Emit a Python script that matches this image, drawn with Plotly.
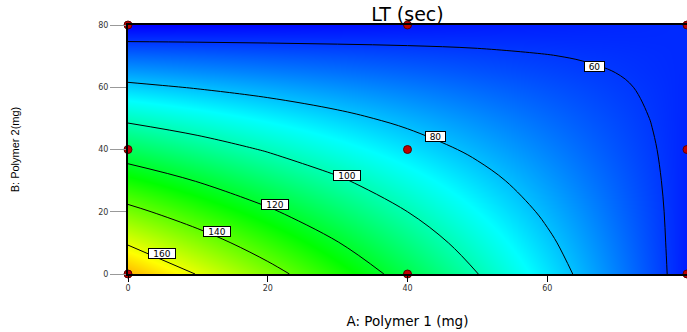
import plotly.graph_objects as go

# Factor grid (mg) - finer near the top-right corner where the 60 contour bends
polymer1_mg = [0, 10, 20, 30, 40, 50, 60, 65, 70, 75, 80]
polymer2_mg = [0, 10, 20, 30, 40, 50, 60, 65, 70, 75, 80]

# LT (sec), one row per Polymer 2 level
lt_b0 = [174.2, 159.4, 144.6, 129.8, 115.0, 100.2, 85.4, 78.0, 70.6, 63.2, 55.8]
lt_b10 = [158.9, 146.1, 133.2, 120.4, 107.5, 94.7, 81.8, 75.4, 69.0, 62.5, 56.1]
lt_b20 = [143.6, 132.7, 121.8, 110.9, 100.0, 89.1, 78.2, 72.8, 67.3, 61.9, 56.4]
lt_b30 = [128.3, 119.4, 110.4, 101.5, 92.5, 83.6, 74.6, 70.1, 65.7, 61.2, 56.7]
lt_b40 = [113.0, 106.0, 99.0, 92.0, 85.0, 78.0, 71.0, 67.5, 64.0, 60.5, 57.0]
lt_b50 = [97.7, 92.7, 87.6, 82.6, 77.5, 72.5, 67.4, 64.9, 62.4, 59.8, 57.3]
lt_b60 = [82.4, 79.3, 76.2, 73.1, 70.0, 66.9, 63.8, 62.3, 60.7, 59.2, 57.6]
lt_b65 = [74.8, 72.6, 70.5, 68.4, 66.3, 64.1, 62.0, 60.9, 59.9, 58.8, 57.8]
lt_b70 = [67.1, 66.0, 64.8, 63.7, 62.5, 61.4, 60.2, 59.6, 59.1, 58.5, 57.9]
lt_b75 = [59.5, 59.3, 59.1, 58.9, 58.8, 58.6, 58.4, 58.3, 58.2, 58.1, 58.1]
lt_b80 = [51.8, 52.6, 53.4, 54.2, 55.0, 55.8, 56.6, 57.0, 57.4, 57.8, 58.2]

# Contour levels and where their labels sit
contour_levels = [60, 80, 100, 120, 140, 160]
label_a = [66.7, 44.0, 31.4, 21.0, 12.7, 4.8]
label_b = [66.6, 44.3, 31.6, 22.2, 13.6, 6.6]

# Design points
design_a = [0, 0, 0, 40, 40, 40, 80, 80, 80]
design_b = [0, 40, 80, 0, 40, 80, 0, 40, 80]

tick_vals = [0, 20, 40, 60, 80]
tick_text = ["0", "20", "40", "60", "80"]

z = [lt_b0, lt_b10, lt_b20, lt_b30, lt_b40, lt_b50, lt_b60,
     lt_b65, lt_b70, lt_b75, lt_b80]

WIDE = "DejaVu Sans, Verdana, sans-serif"
ARIAL = "Liberation Sans, Arial, sans-serif"

colorscale = [
    [0.0, "rgb(0,0,255)"],
    [0.25, "rgb(0,255,255)"],
    [0.5, "rgb(0,255,0)"],
    [0.75, "rgb(255,255,0)"],
    [1.0, "rgb(255,0,0)"],
]

fig = go.Figure()
fig.add_trace(go.Contour(
    x=polymer1_mg, y=polymer2_mg, z=z,
    colorscale=colorscale, zmin=52, zmax=200,
    showscale=False,
    contours=dict(coloring="heatmap", start=min(contour_levels),
                  end=max(contour_levels), size=20, showlabels=False),
    line=dict(color="black", width=1, smoothing=1.0),
    hoverinfo="skip",
))

fig.add_trace(go.Scatter(
    x=design_a, y=design_b, mode="markers",
    marker=dict(symbol="circle", size=8, color="#c00000",
                line=dict(color="#5a0000", width=1)),
    cliponaxis=False, hoverinfo="skip", showlegend=False,
))

annotations = []
for lvl, a, b in zip(contour_levels, label_a, label_b):
    txt = str(lvl)
    annotations.append(dict(
        x=a, y=b, xref="x", yref="y", text=txt, showarrow=False,
        font=dict(family=WIDE, size=9, color="black"),
        bgcolor="white", bordercolor="black", borderwidth=1, borderpad=0,
        width=7 * len(txt) + 5, height=9,
    ))

fig.update_layout(
    width=687, height=332,
    margin=dict(l=128, r=0, t=25, b=58),
    paper_bgcolor="white", plot_bgcolor="white",
    showlegend=False,
    title=dict(text="LT (sec)", x=0.5, xref="paper", y=0.957, yref="container",
               yanchor="middle", xanchor="center",
               font=dict(family=WIDE, size=19, color="black")),
    font=dict(family=WIDE),
    annotations=annotations,
)

fig.update_xaxes(
    range=[0, 80], tickvals=tick_vals, ticktext=tick_text,
    ticks="outside", ticklen=6, tickcolor="black", tickwidth=1,
    tickfont=dict(family=WIDE, size=8, color="#333333"),
    showgrid=False, zeroline=False,
    showline=True, linecolor="black", linewidth=1.5, mirror=True,
    title=dict(text="A: Polymer 1 (mg)", standoff=24,
               font=dict(family=WIDE, size=13.5, color="black")),
    automargin=False,
)
fig.update_yaxes(
    range=[0, 80], tickvals=tick_vals, ticktext=tick_text,
    ticks="outside", ticklen=16, tickcolor="#999999", tickwidth=1,
    tickfont=dict(family=WIDE, size=8, color="#333333"),
    showgrid=False, zeroline=False,
    showline=True, linecolor="black", linewidth=2, mirror=False,
    title=dict(text="B: Polymer 2(mg)", standoff=76,
               font=dict(family=ARIAL, size=11, color="black")),
    automargin=False,
)

fig.write_html(
    "out.html",
    config={"displayModeBar": False},
    post_script="document.body.style.margin='0';document.body.style.overflow='hidden';",
)
